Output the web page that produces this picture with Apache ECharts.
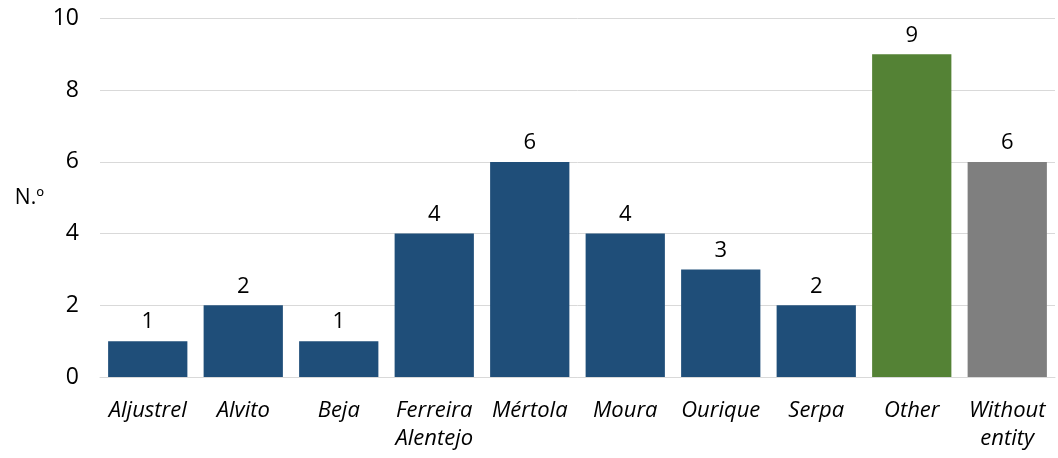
<!DOCTYPE html>
<html><head><meta charset="utf-8">
<script src="https://cdn.jsdelivr.net/npm/echarts@6/dist/echarts.min.js"></script>
<style>html,body{margin:0;padding:0;background:#fff}#c{width:1058px;height:458px}</style>
</head><body><div id="c"></div>
<script>
const categories = ["Aljustrel","Alvito","Beja","Ferreira\nAlentejo","Mértola","Moura","Ourique","Serpa","Other","Without\nentity"];
const values = [1,2,1,4,6,4,3,2,9,6];
const yTicks = [0,2,4,6,8,10];
const yAxisTitle = "N.º";

const blue = "#1F4E79", green = "#548235", gray = "#7F7F7F";
function colorFor(name){ if(name==="Other") return green; if(name.indexOf("Without")===0) return gray; return blue; }
const font = "'Open Sans', sans-serif";
const chart = echarts.init(document.getElementById('c'), null, {renderer:'canvas'});
chart.setOption({
  animation:false,
  grid:{left:100,right:3,top:18.5,bottom:81,containLabel:false,outerBoundsMode:'none'},
  xAxis:{type:'category',data:categories,
    axisLine:{show:true,lineStyle:{color:'#D9D9D9',width:1}},axisTick:{show:false},
    axisLabel:{interval:0,fontFamily:font,fontSize:22,fontStyle:'italic',color:'#000',margin:20,lineHeight:28}},
  yAxis:{type:'value',min:yTicks[0],max:yTicks[yTicks.length-1],interval:2,
    name:yAxisTitle,nameLocation:'middle',nameGap:56,nameRotate:0,
    nameTextStyle:{fontFamily:font,fontSize:21,color:'#000'},
    axisLine:{show:false},axisTick:{show:false},
    axisLabel:{fontFamily:font,fontSize:23,color:'#000',margin:21},
    splitLine:{lineStyle:{color:'#D9D9D9',width:1}}},
  series:[{type:'bar',barCategoryGap:'17%',
    data:values.map((v,i)=>({value:v,itemStyle:{color:colorFor(categories[i])}})),
    label:{show:true,position:'top',distance:8,fontFamily:font,fontSize:22,color:'#000'}}]
});
</script></body></html>
